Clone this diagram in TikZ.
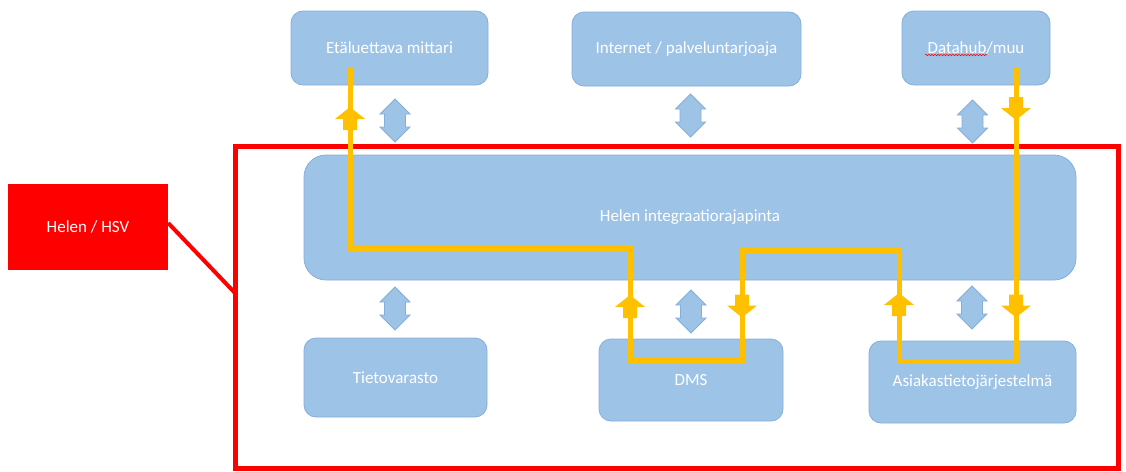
\documentclass[tikz,border=0pt]{standalone}
\usepackage{fontspec}
\setmainfont{Carlito}
\usetikzlibrary{decorations.pathmorphing}
\definecolor{boxblue}{HTML}{9DC3E6}
\definecolor{boxedge}{HTML}{86AEDA}
\definecolor{flow}{HTML}{FFC000}
\definecolor{hred}{HTML}{FF0000}
\begin{document}
\begin{tikzpicture}[x=1pt,y=-1pt,
  box/.style={draw=boxedge, line width=0.8pt, fill=boxblue, rounded corners=12pt,
    text=white, font=\fontsize{17}{20}\selectfont, inner sep=0pt},
  redbox/.style={fill=hred, draw=none, text=white, font=\fontsize{17}{20}\selectfont, inner sep=0pt},
  flowline/.style={draw=flow, line width=5pt},
  frame/.style={draw=hred, line width=5pt},
  dblarr/.pic={\draw[draw=boxedge, fill=boxblue, line width=0.8pt]
     (0,-21.5) -- (15,-6.5) -- (10.5,-6.5) -- (10.5,6.5) -- (15,6.5) -- (0,21.5)
     -- (-15,6.5) -- (-10.5,6.5) -- (-10.5,-6.5) -- (-15,-6.5) -- cycle;},
  uparr/.pic={\fill[flow] (0,-11.5) -- (15,0.5) -- (7,0.5) -- (7,11.5) -- (-7,11.5)
     -- (-7,0.5) -- (-15,0.5) -- cycle;},
  downarr/.pic={\fill[flow] (0,11.5) -- (15,-0.5) -- (7,-0.5) -- (7,-11.5) -- (-7,-11.5)
     -- (-7,-0.5) -- (-15,-0.5) -- cycle;}
]
\useasboundingbox (0,0) rectangle (1126,471);

% red frame
\draw[frame] (235,146.5) rectangle (1118,468);

% boxes
\node[box, minimum width=197pt, minimum height=74pt] (etal) at (389.5,48) {Etäluettava mittari};
\node[box, minimum width=229pt, minimum height=74pt] (inet) at (686.5,49) {Internet / palveluntarjoaja};
\node[box, minimum width=148pt, minimum height=74pt] (dhub) at (976,48) {Datahub/muu};
\node[box, rounded corners=22pt, minimum width=772pt, minimum height=125pt] (integ) at (690,217.5) {Helen integraatiorajapinta};
\node[box, minimum width=183pt, minimum height=79pt] (tieto) at (395.5,377.5) {Tietovarasto};
\node[box, minimum width=184pt, minimum height=82pt] (dms) at (691,380) {DMS};
\node[box, minimum width=207pt, minimum height=82pt] (asiak) at (972.5,382) {Asiakastietojärjestelmä};
\node[redbox, minimum width=160pt, minimum height=86pt] (helen) at (88,227) {Helen / HSV};

% spellcheck underline
\coordinate (sp1) at (925,55);
\coordinate (sp2) at (987,55);
\draw[hred, line width=0.5pt, decorate, decoration={snake, amplitude=0.8pt, segment length=3pt}] (sp1) -- (sp2);

% red callout line
\coordinate (fr) at (235,293);
\draw[draw=hred, line width=4pt] (helen.east) ++(0,-4) -- (fr);

% blue double arrows
\pic at (395,120.5) {dblarr};
\pic at (690.5,115.5) {dblarr};
\pic at (972.5,121.5) {dblarr};
\pic at (395,308.5) {dblarr};
\pic at (691,311.5) {dblarr};
\pic at (972,307.5) {dblarr};

% flow path
\coordinate (o1) at (350,68);
\coordinate (o2) at (1016,68);
\draw[flowline] (o1) -- (350,248) -- (630,248) -- (630,360) -- (742,360) -- (742,250)
  -- (899,250) -- (899,361) -- (1016,361) -- (o2);

% flow arrow markers
\pic at (350,118.5) {uparr};
\pic at (630,306.5) {uparr};
\pic at (742,306) {downarr};
\pic at (899,304.5) {uparr};
\pic at (1016,306) {downarr};
\pic at (1016,108.5) {downarr};
\end{tikzpicture}
\end{document}
